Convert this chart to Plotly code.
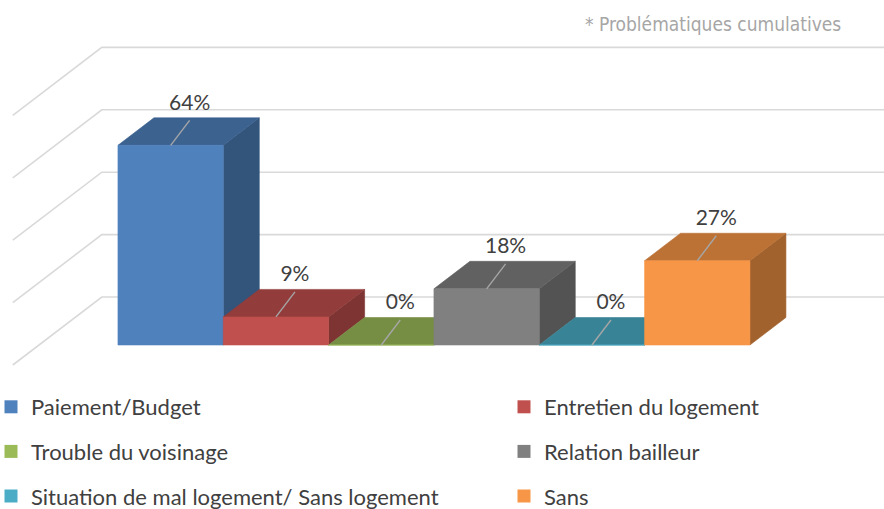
import plotly.graph_objects as go

# ---- data ----
categories = [
    "Paiement/Budget",
    "Entretien du logement",
    "Trouble du voisinage",
    "Relation bailleur",
    "Situation de mal logement/ Sans logement",
    "Sans",
]
values = [64, 9, 0, 18, 0, 27]
value_labels = ["64%", "9%", "0%", "18%", "0%", "27%"]
grid_values = [0, 20, 40, 60, 80]
note_text = "* Problématiques cumulatives"

# ---- style ----
colors = ["#4F81BD", "#C0504D", "#9BBB59", "#808080", "#4BACC6", "#F79646"]
legend_column = ["legend", "legend2", "legend", "legend2", "legend", "legend2"]
TOP_SHADE = 0.76
SIDE_SHADE = 0.65
PX_PER_UNIT = 105.33   # px per category
PX_PER_PCT = 3.12      # px per percent
DX = 36 / PX_PER_UNIT  # depth offset of one bar depth (x, in category units)
DY = 27.5 / PX_PER_PCT  # depth offset of one bar depth (y, in % units)
T_BACK = 1.745          # back wall position (in bar depths)
T_FRONT = -0.727        # front edge of side wall
X_WALL = -1.25          # side wall position (category units, front plane)
X_MIN, X_MAX = -1.620, 6.773
Y_MIN, Y_MAX = -11.22, 110.58
LBL_DX = 19 / PX_PER_UNIT
LBL_DY = 41 / PX_PER_PCT
LEAD_DY = 25 / PX_PER_PCT
TEXT_COLOR = "#404040"
FONT = "Lato, 'Open Sans', sans-serif"


def shade(hex_color, f):
    h = hex_color.lstrip("#")
    r, g, b = (int(h[i:i + 2], 16) for i in (0, 2, 4))
    return "#%02X%02X%02X" % (round(r * f), round(g * f), round(b * f))


fig = go.Figure()

# wall gridlines (back wall + side wall diagonals)
gx, gy = [], []
for g in grid_values:
    gx += [X_WALL + T_FRONT * DX, X_WALL + T_BACK * DX, X_MAX + 1, None]
    gy += [g + T_FRONT * DY, g + T_BACK * DY, g + T_BACK * DY, None]
fig.add_trace(go.Scatter(x=gx, y=gy, mode="lines",
                         line=dict(color="#D9D9D9", width=1.6),
                         hoverinfo="skip", showlegend=False))

# 3D bars, drawn left to right
for i, (v, c) in enumerate(zip(values, colors)):
    xl, xr = i - 0.5, i + 0.5
    faces = [
        ([xr, xr + DX, xr + DX, xr, xr], [0, DY, v + DY, v, 0], shade(c, SIDE_SHADE)),
        ([xl, xr, xr + DX, xl + DX, xl], [v, v, v + DY, v + DY, v], shade(c, TOP_SHADE)),
        ([xl, xr, xr, xl, xl], [0, 0, v, v, 0], c),
    ]
    for fx, fy, fc in faces:
        fig.add_trace(go.Scatter(x=fx, y=fy, mode="lines", fill="toself",
                                 fillcolor=fc, line=dict(color=fc, width=0.6),
                                 hoverinfo="skip", showlegend=False))

# leader lines
lx, ly = [], []
for i, v in enumerate(values):
    lx += [i, i + LBL_DX, None]
    ly += [v, v + LEAD_DY, None]
fig.add_trace(go.Scatter(x=lx, y=ly, mode="lines",
                         line=dict(color="#A6A6A6", width=1.4),
                         hoverinfo="skip", showlegend=False))

# data labels
fig.add_trace(go.Scatter(
    x=[i + LBL_DX for i in range(len(values))],
    y=[v + LBL_DY for v in values],
    mode="text", text=value_labels, textposition="middle center",
    textfont=dict(family=FONT, size=21, color=TEXT_COLOR),
    hoverinfo="skip", showlegend=False))

# legend entries
for name, c, lg in zip(categories, colors, legend_column):
    fig.add_trace(go.Scatter(
        x=[None], y=[None], mode="markers", name=name, legend=lg,
        legendgroup=name,
        marker=dict(symbol="square", size=13, color=c)))

fig.add_annotation(text=note_text, x=843 / 884, y=1 - 24 / 380,
                   xref="paper", yref="paper", xanchor="right", yanchor="middle",
                   showarrow=False,
                   font=dict(family="'DejaVu Sans Condensed', 'DejaVu Sans', sans-serif",
                             size=19, color="#A6A6A6"))

legend_common = dict(
    xref="paper", yref="container", xanchor="left", yanchor="top",
    font=dict(family=FONT, size=22, color=TEXT_COLOR),
    tracegroupgap=13, bgcolor="rgba(0,0,0,0)", orientation="v",
)
fig.update_layout(
    width=884, height=509,
    margin=dict(l=0, r=0, t=0, b=129, autoexpand=False),
    paper_bgcolor="white", plot_bgcolor="white",
    xaxis=dict(range=[X_MIN, X_MAX], visible=False, fixedrange=True),
    yaxis=dict(range=[Y_MIN, Y_MAX], visible=False, fixedrange=True),
    showlegend=True,
    hovermode=False,
    legend=dict(x=-9 / 884, y=1 - 386 / 509, **legend_common),
    legend2=dict(x=(523 - 19) / 884, y=1 - 386 / 509, **legend_common),
)

fig.write_html("out.html", config={"displayModeBar": False},
               post_script="document.body.style.margin='0';")
